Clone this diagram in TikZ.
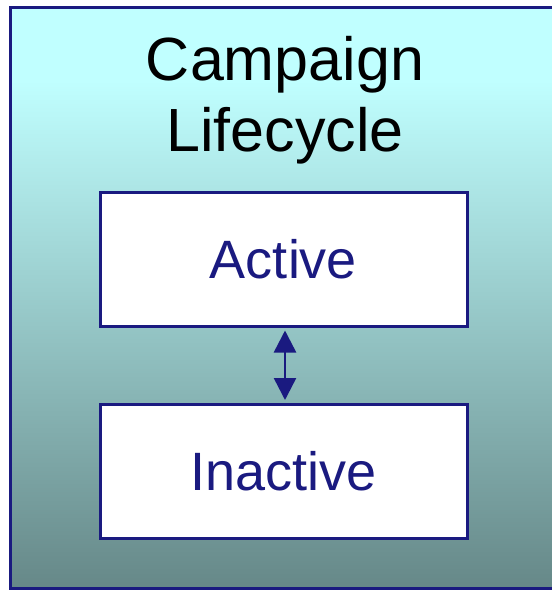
\documentclass[tikz,border=0pt]{standalone}
\usepackage{fontspec}
\setmainfont{Liberation Sans}
\usetikzlibrary{arrows.meta}
\definecolor{navy}{HTML}{1A1A80}
\definecolor{topcyan}{HTML}{C0FFFF}
\definecolor{midteal}{HTML}{94C6C6}
\definecolor{botteal}{HTML}{668888}
\tikzset{
  titletext/.style={font=\fontsize{61}{70}\selectfont, anchor=base, inner sep=0pt},
  statebox/.style={draw=navy, line width=3pt, fill=white, minimum width=367pt, minimum height=134pt, inner sep=0pt, text=navy, font=\fontsize{54}{60}\selectfont},
  linkarrow/.style={navy, line width=2.5pt, {Triangle[width=22pt,length=22pt]}-{Triangle[width=22pt,length=22pt]}}
}
\begin{document}
\begin{tikzpicture}[x=1pt,y=-1pt]
\useasboundingbox (0,0) rectangle (551,591);
\fill[white] (0,0) rectangle (551,591);
\fill[topcyan] (10,8) rectangle (560,80);
\shade[top color=topcyan, middle color=midteal, bottom color=botteal] (10,80) rectangle (560,588);
\draw[navy, line width=3pt] (560,8) -- (10,8) -- (10,588) -- (560,588);
\node[titletext] (title1) at (285,81) {Campaign};
\node[titletext] (title2) at (285,151) {Lifecycle};
\node[statebox] (active) at (283.5,259) {Active};
\node[statebox] (inactive) at (283.5,471.5) {Inactive};
\coordinate (a1) at ([yshift=-3pt]active.south -| 285,0);
\coordinate (a2) at ([yshift=3pt]inactive.north -| 285,0);
\draw[linkarrow] (a1) -- (a2);
\end{tikzpicture}
\end{document}
